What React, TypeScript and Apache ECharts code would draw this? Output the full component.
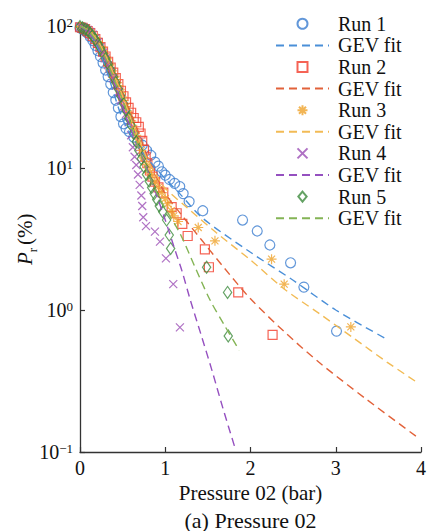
import React, { useEffect, useRef } from 'react';
import * as echarts from 'echarts';

const SERIF = 'Liberation Serif';

const xTicks = [0, 1, 2, 3, 4];
const yRange = [0.1, 100];

const runNames = ['Run 1', 'Run 2', 'Run 3', 'Run 4', 'Run 5'];
const fitNames = ['GEV fit 1', 'GEV fit 2', 'GEV fit 3', 'GEV fit 4', 'GEV fit 5'];

const run1 = [
  [0.0, 97], [0.03, 95], [0.06, 92], [0.09, 89], [0.12, 84], [0.15, 79], [0.18, 73], [0.21, 67],
  [0.24, 61], [0.27, 55], [0.3, 49], [0.33, 44], [0.36, 39], [0.39, 34], [0.42, 30], [0.45, 26.5],
  [0.48, 23], [0.51, 20.5], [0.54, 19], [0.58, 18], [0.63, 16.5], [0.68, 15.3], [0.73, 14.5],
  [0.78, 13.3], [0.83, 12.3], [0.88, 11.0], [0.92, 10.3], [0.96, 9.4], [1.0, 8.9], [1.05, 8.3],
  [1.11, 7.8], [1.17, 7.4], [1.21, 6.6], [1.28, 5.8], [1.44, 5.0], [1.907, 4.3], [2.079, 3.6],
  [2.227, 2.87], [2.47, 2.15], [2.626, 1.45], [3.009, 0.71],
];
const run2 = [
  [0.0, 98], [0.03, 97], [0.06, 95], [0.09, 92], [0.12, 89], [0.15, 85], [0.18, 81], [0.21, 76],
  [0.24, 71], [0.27, 66], [0.3, 61], [0.33, 56], [0.36, 51], [0.39, 47], [0.42, 43], [0.45, 39],
  [0.48, 35], [0.51, 32], [0.54, 29], [0.57, 26.5], [0.6, 24.5], [0.63, 22.5], [0.66, 21],
  [0.69, 19.5], [0.71, 17.5], [0.73, 15.5], [0.75, 13.5], [0.77, 12], [0.79, 10.8], [0.82, 9.6],
  [0.85, 8.7], [0.88, 8.0], [0.92, 7.3], [0.977, 6.7], [1.075, 5.3], [1.134, 4.8], [1.2, 4.04],
  [1.263, 3.32], [1.465, 2.67], [1.512, 2.0], [1.856, 1.33], [2.259, 0.667],
];
const run3 = [
  [0.0, 99], [0.03, 98], [0.06, 96], [0.09, 94], [0.12, 91], [0.15, 87], [0.18, 83], [0.21, 78],
  [0.24, 72], [0.27, 67], [0.3, 61], [0.33, 56], [0.36, 51], [0.39, 46], [0.42, 42], [0.45, 38],
  [0.48, 34], [0.51, 30], [0.54, 27], [0.57, 24], [0.6, 21.5], [0.63, 19], [0.66, 17], [0.69, 15],
  [0.72, 13.3], [0.75, 11.8], [0.78, 10.6], [0.81, 9.6], [0.84, 8.8], [0.88, 8.0], [0.92, 7.3],
  [0.96, 6.7], [1.0, 6.1], [1.03, 5.6], [1.07, 5.0], [1.1, 4.6], [1.15, 4.2], [1.387, 3.81],
  [1.583, 3.07], [2.247, 2.28], [2.395, 1.52], [3.177, 0.76],
];
const run4 = [
  [0.0, 99], [0.03, 98], [0.06, 96], [0.09, 94], [0.12, 91], [0.15, 87], [0.18, 82], [0.21, 77],
  [0.24, 71], [0.27, 65], [0.3, 59], [0.33, 53], [0.36, 48], [0.39, 43], [0.42, 38], [0.45, 34],
  [0.48, 30], [0.51, 27], [0.54, 24], [0.57, 21], [0.6, 17], [0.62, 14], [0.64, 12], [0.66, 10.5],
  [0.68, 9.0], [0.7, 7.6], [0.72, 6.4], [0.73, 5.4], [0.742, 4.5], [0.774, 3.9], [0.879, 3.56],
  [0.938, 3.03], [1.008, 2.31], [1.094, 1.52], [1.172, 0.755],
];
const run5 = [
  [0.0, 99], [0.03, 97], [0.06, 95], [0.09, 93], [0.12, 89], [0.15, 85], [0.18, 80], [0.21, 75],
  [0.24, 70], [0.27, 64], [0.3, 59], [0.33, 54], [0.36, 49], [0.39, 44], [0.42, 40], [0.45, 36],
  [0.48, 32], [0.51, 28.5], [0.54, 25.5], [0.57, 22.5], [0.6, 20], [0.63, 17.5], [0.66, 15.3],
  [0.69, 13.3], [0.72, 11.6], [0.75, 10.2], [0.78, 9.0], [0.81, 8.1], [0.84, 7.3], [0.87, 6.6],
  [0.9, 6.0], [0.93, 5.4], [0.97, 4.92], [1.016, 4.3], [1.047, 3.37], [1.063, 2.71], [1.485, 2.0],
  [1.731, 1.33], [1.739, 0.656],
];

const fit1 = [
  [0, 100], [0.1, 91], [0.2, 72], [0.3, 51], [0.4, 33], [0.5, 22], [0.6, 17], [0.7, 13.8],
  [0.8, 11.5], [0.9, 9.8], [1.0, 8.4], [1.17, 6.6], [1.44, 4.43], [2.0, 2.55], [2.5, 1.62],
  [3.0, 1.0], [3.58, 0.632],
];
const fit2 = [
  [0, 100], [0.1, 92], [0.2, 78], [0.3, 61], [0.4, 45], [0.5, 33], [0.6, 24], [0.7, 17],
  [0.8, 11.5], [0.9, 8.6], [1.0, 6.6], [1.2, 4.6], [1.427, 3.11], [1.7, 1.95], [2.0, 1.2],
  [2.4, 0.7], [2.8, 0.43], [3.36, 0.235], [3.95, 0.128],
];
const fit3 = [
  [0, 100], [0.1, 93], [0.2, 80], [0.3, 62], [0.4, 45], [0.5, 32], [0.6, 22], [0.7, 15.5],
  [0.8, 11.2], [0.9, 8.8], [1.0, 7.2], [1.25, 5.3], [1.6, 3.5], [2.0, 2.25], [2.4, 1.4],
  [2.8, 0.95], [3.2, 0.64], [3.6, 0.43], [3.97, 0.305],
];
const fit4 = [
  [0, 100], [0.1, 90], [0.2, 75], [0.3, 57], [0.4, 40], [0.5, 27], [0.6, 18.5], [0.7, 13.2],
  [0.8, 9.3], [0.9, 6.4], [1.0, 4.3], [1.114, 2.65], [1.2, 1.85], [1.293, 1.18], [1.42, 0.67],
  [1.547, 0.377], [1.68, 0.2], [1.82, 0.106],
];
const fit5 = [
  [0, 100], [0.1, 92], [0.2, 77], [0.3, 59], [0.4, 42], [0.5, 30], [0.6, 20], [0.7, 13],
  [0.8, 9.0], [0.9, 6.7], [1.0, 5.2], [1.172, 3.47], [1.35, 2.0], [1.524, 1.18], [1.7, 0.77],
  [1.868, 0.52],
];

const runData = [run1, run2, run3, run4, run5];
const fitData = [fit1, fit2, fit3, fit4, fit5];

const markerColors = ['#3b7dd0', '#f23c2a', '#efa22a', '#9b4db5', '#3d8b3d'];
const fitColors = ['#4a8fd8', '#e2623a', '#f2bb55', '#9550c0', '#84b455'];
const symbols = [
  'circle',
  'path://M0 0L10 0L10 10L0 10Z',
  'path://M5 0L5 10M0 5L10 5M1.5 1.5L8.5 8.5M8.5 1.5L1.5 8.5',
  'path://M0 0L10 10M10 0L0 10',
  'path://M5 0L10 6L5 12L0 6Z',
];
const symbolSizes: any[] = [10, 9, 10, 8, [10, 12]];

export default function App() {
  const ref = useRef<HTMLDivElement>(null);
  useEffect(() => {
    const chart = echarts.init(ref.current!, null, { renderer: 'svg' });
    const series: any[] = [];
    const legendData: any[] = [];
    for (let i = 0; i < 5; i++) {
      series.push({
        name: runNames[i],
        type: 'scatter',
        data: runData[i],
        symbol: symbols[i],
        symbolSize: symbolSizes[i],
        symbolKeepAspect: true,
        clip: false,
        itemStyle: { color: 'rgba(0,0,0,0)', borderColor: markerColors[i], borderWidth: 1.2 },
        emphasis: { disabled: true },
      });
      series.push({
        name: fitNames[i],
        type: 'line',
        data: fitData[i],
        showSymbol: false,
        symbol: 'none',
        smooth: 0.3,
        itemStyle: { color: 'rgba(0,0,0,0)', borderColor: 'rgba(0,0,0,0)' },
        lineStyle: { color: fitColors[i], width: 1.4, type: [8, 5] },
        emphasis: { disabled: true },
      });
      legendData.push({ name: runNames[i], icon: symbols[i] }, { name: fitNames[i] });
    }
    chart.setOption({
      animation: false,
      backgroundColor: '#fff',
      grid: { left: 80, right: 6, top: 26, bottom: 79, outerBoundsMode: 'none' },
      legend: {
        orient: 'vertical',
        left: 275,
        top: 13,
        padding: 0,
        itemWidth: 53,
        itemHeight: 10,
        itemGap: 0,
        symbolKeepAspect: true,
        selectedMode: false,
        data: legendData,
        formatter: (n: string) => (n.indexOf('GEV') === 0 ? 'GEV fit' : n),
        textStyle: { fontFamily: SERIF, fontSize: 20, color: '#111', lineHeight: 21.6, padding: [0, 0, 0, 4] },
      },
      xAxis: {
        type: 'value',
        min: xTicks[0],
        max: xTicks[xTicks.length - 1],
        interval: 1,
        axisLine: { show: true, lineStyle: { color: '#333', width: 1.3 } },
        axisTick: { show: true, inside: true, length: 5, lineStyle: { color: '#333', width: 1.2 } },
        axisLabel: { fontFamily: SERIF, fontSize: 20, color: '#111', margin: 6 },
        splitLine: { show: false },
        name: 'Pressure 02 (bar)',
        nameLocation: 'middle',
        nameGap: 27,
        nameTextStyle: { fontFamily: SERIF, fontSize: 21, color: '#111' },
      },
      yAxis: {
        type: 'log',
        logBase: 10,
        min: yRange[0],
        max: yRange[1],
        axisLine: { show: true, lineStyle: { color: '#333', width: 1.3 } },
        axisTick: { show: true, inside: true, length: 5, lineStyle: { color: '#333', width: 1.2 } },
        minorTick: { show: false },
        splitLine: { show: false },
        axisLabel: {
          margin: 7,
          formatter: (v: number) => {
            const e = Math.round(Math.log10(v));
            return '{b|10}{s|' + (e < 0 ? '\u2212' + -e : e) + '}';
          },
          rich: {
            b: { fontFamily: SERIF, fontSize: 20, color: '#111' },
            s: { fontFamily: SERIF, fontSize: 13, color: '#111', verticalAlign: 'top' },
          },
        },
      },
      graphic: [
        {
          type: 'group',
          x: 25,
          y: 238.5,
          rotation: Math.PI / 2,
          children: [
            {
              type: 'text',
              x: -26.5,
              y: 0,
              style: { text: 'P', fontFamily: SERIF, fontSize: 21, fontStyle: 'italic', fill: '#111', textAlign: 'left', textVerticalAlign: 'middle' },
            },
            {
              type: 'text',
              x: -13.7,
              y: 7,
              style: { text: 'r', fontFamily: SERIF, fontSize: 13, fill: '#111', textAlign: 'left', textVerticalAlign: 'middle' },
            },
            {
              type: 'text',
              x: -6.5,
              y: 0,
              style: { text: '(%)', fontFamily: SERIF, fontSize: 21, fill: '#111', textAlign: 'left', textVerticalAlign: 'middle' },
            },
          ],
        },
        {
          type: 'text',
          x: 250.5,
          y: 520,
          style: { text: '(a) Pressure 02', fontFamily: SERIF, fontSize: 22, fill: '#111', textAlign: 'center', textVerticalAlign: 'middle' },
        },
      ],
      series,
    });
    return () => chart.dispose();
  }, []);
  return (
    <div
      ref={ref}
      style={{ position: 'fixed', left: 0, top: 0, width: 427, height: 531, background: '#fff' }}
    />
  );
}
